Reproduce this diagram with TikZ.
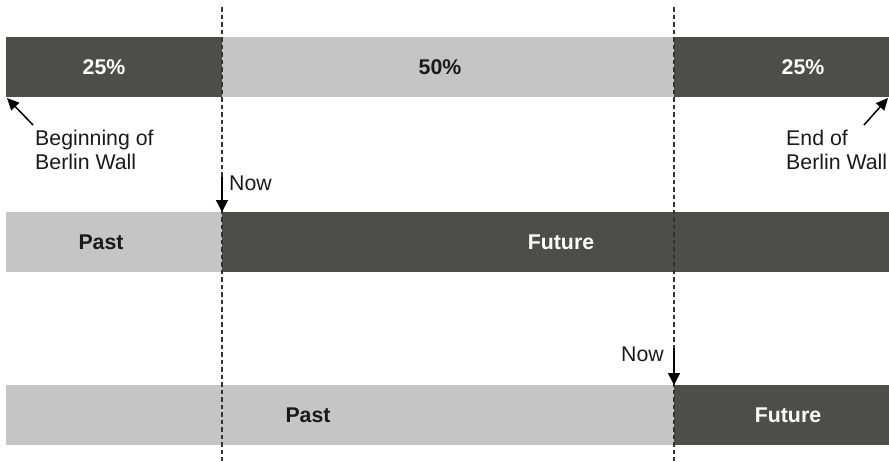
\documentclass[tikz,border=0pt]{standalone}
\usepackage{fontspec}
\setmainfont{Liberation Sans}
\usetikzlibrary{arrows.meta}
\definecolor{bardark}{HTML}{4D4D4B}
\definecolor{barlight}{HTML}{C4C5C4}
\definecolor{inkdark}{HTML}{1A1A1A}
\tikzset{
  darkseg/.style={fill=bardark},
  lightseg/.style={fill=barlight},
  onlight/.style={anchor=base, inner sep=0pt, text=inkdark, font=\fontsize{21.3}{24}\selectfont\bfseries},
  ondark/.style={anchor=base, inner sep=0pt, text=white, font=\fontsize{21.3}{24}\selectfont\bfseries},
  note/.style={inner sep=0pt, text=inkdark, align=left, font=\fontsize{21.3}{24}\selectfont},
  marker/.style={dash pattern=on 4.5pt off 3pt, line width=1.2pt, draw=black!80},
  pointer/.style={line width=1.5pt, draw=black, -{Triangle[length=12pt,width=12pt]}},
  wallarrow/.style={line width=1.5pt, draw=black, -{Triangle[length=12pt,width=11pt]}},
}
\begin{document}
\begin{tikzpicture}[x=1pt, y=-1pt]
\useasboundingbox (0,0) rectangle (889,461);

% Row 1: share of the wall's lifetime
\fill[darkseg]  (6,37)   rectangle (222,97);
\fill[lightseg] (222,37) rectangle (674,97);
\fill[darkseg]  (674,37) rectangle (889,97);
\node[ondark]  (q1) at (104,74) {25\%};
\node[onlight] (q2) at (440,74) {50\%};
\node[ondark]  (q3) at (803,74) {25\%};

% Row 2: early in the lifetime
\fill[lightseg] (6,212)   rectangle (222,272);
\fill[darkseg]  (222,212) rectangle (889,272);
\node[onlight] (p1) at (101,249) {Past};
\node[ondark]  (f1) at (561,249) {Future};

% Row 3: late in the lifetime
\fill[lightseg] (6,385)   rectangle (674,445);
\fill[darkseg]  (674,385) rectangle (889,445);
\node[onlight] (p2) at (308,422) {Past};
\node[ondark]  (f2) at (788,422) {Future};

% Quartile markers
\coordinate (m1top) at (222,7);
\coordinate (m1bot) at (222,461);
\coordinate (m2top) at (674,7);
\coordinate (m2bot) at (674,461);
\draw[marker] (m1top) -- (m1bot);
\draw[marker] (m2top) -- (m2bot);

% Start and end of the wall
\coordinate (wallstart) at (7,98);
\coordinate (wallend)   at (888,98);
\coordinate (starttail) at (33,125);
\coordinate (endtail)   at (864,125);
\draw[wallarrow] (starttail) -- (wallstart);
\draw[wallarrow] (endtail) -- (wallend);
\node[note, anchor=north west] (begin) at (35,130) {Beginning of\\Berlin Wall};
\node[note, anchor=north west] (end)   at (786,130) {End of\\Berlin Wall};

% "Now" pointers
\coordinate (now1top) at (222,177);
\coordinate (now1tip) at (222,212);
\coordinate (now2top) at (674,348);
\coordinate (now2tip) at (674,385);
\draw[pointer] (now1top) -- (now1tip);
\draw[pointer] (now2top) -- (now2tip);
\node[note, anchor=base west] (now1) at (229,190) {Now};
\node[note, anchor=base east] (now2) at (664,361) {Now};
\end{tikzpicture}
\end{document}
